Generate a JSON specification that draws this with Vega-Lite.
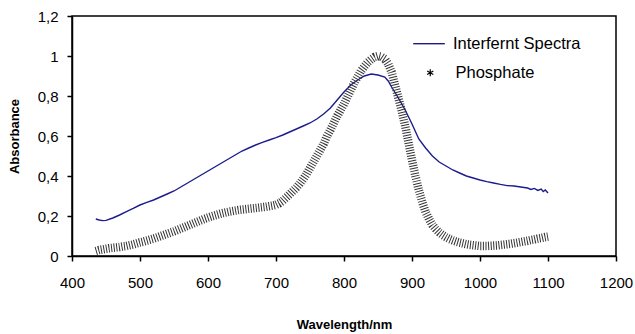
{
  "$schema": "https://vega.github.io/schema/vega-lite/v6.json",
  "width": 544,
  "height": 240,
  "autosize": {"type": "none"},
  "padding": {"left": 72, "top": 16, "right": 19, "bottom": 78},
  "background": "white",
  "config": {
    "font": "Liberation Sans",
    "view": {"stroke": "black", "strokeWidth": 1.5},
    "axis": {"grid": false, "domainColor": "black", "tickColor": "black", "labelColor": "black", "titleColor": "black", "labelFont": "Liberation Sans", "titleFont": "Liberation Sans", "labelFontSize": 15, "tickSize": 5, "domainWidth": 1.5, "tickWidth": 1.5, "labelOverlap": false},
    "legend": {"labelFont": "Liberation Sans", "labelFontSize": 16.5, "labelColor": "black"}
  },
  "datasets": {
    "interferent": [
      {"wl": 435, "abs": 0.185}, {"wl": 440, "abs": 0.18}, {"wl": 445, "abs": 0.177}, {"wl": 450, "abs": 0.178},
      {"wl": 460, "abs": 0.19}, {"wl": 470, "abs": 0.205}, {"wl": 480, "abs": 0.222}, {"wl": 490, "abs": 0.238},
      {"wl": 500, "abs": 0.255}, {"wl": 510, "abs": 0.268}, {"wl": 520, "abs": 0.28}, {"wl": 530, "abs": 0.295},
      {"wl": 540, "abs": 0.31}, {"wl": 550, "abs": 0.325}, {"wl": 560, "abs": 0.345}, {"wl": 570, "abs": 0.365},
      {"wl": 580, "abs": 0.385}, {"wl": 590, "abs": 0.405}, {"wl": 600, "abs": 0.425}, {"wl": 610, "abs": 0.445},
      {"wl": 620, "abs": 0.465}, {"wl": 630, "abs": 0.485}, {"wl": 640, "abs": 0.505}, {"wl": 650, "abs": 0.525},
      {"wl": 660, "abs": 0.54}, {"wl": 670, "abs": 0.555}, {"wl": 680, "abs": 0.568}, {"wl": 690, "abs": 0.58},
      {"wl": 700, "abs": 0.592}, {"wl": 710, "abs": 0.605}, {"wl": 720, "abs": 0.62}, {"wl": 730, "abs": 0.635},
      {"wl": 740, "abs": 0.65}, {"wl": 750, "abs": 0.665}, {"wl": 760, "abs": 0.685}, {"wl": 770, "abs": 0.71},
      {"wl": 780, "abs": 0.74}, {"wl": 790, "abs": 0.78}, {"wl": 800, "abs": 0.82}, {"wl": 810, "abs": 0.855},
      {"wl": 820, "abs": 0.88}, {"wl": 830, "abs": 0.9}, {"wl": 840, "abs": 0.91}, {"wl": 850, "abs": 0.905},
      {"wl": 860, "abs": 0.895}, {"wl": 865, "abs": 0.875}, {"wl": 870, "abs": 0.845}, {"wl": 880, "abs": 0.79},
      {"wl": 890, "abs": 0.73}, {"wl": 900, "abs": 0.66}, {"wl": 910, "abs": 0.585}, {"wl": 920, "abs": 0.54},
      {"wl": 930, "abs": 0.5}, {"wl": 940, "abs": 0.47}, {"wl": 950, "abs": 0.45}, {"wl": 960, "abs": 0.43},
      {"wl": 970, "abs": 0.415}, {"wl": 980, "abs": 0.4}, {"wl": 990, "abs": 0.39}, {"wl": 1000, "abs": 0.38},
      {"wl": 1010, "abs": 0.372}, {"wl": 1020, "abs": 0.365}, {"wl": 1030, "abs": 0.358}, {"wl": 1040, "abs": 0.352},
      {"wl": 1050, "abs": 0.35}, {"wl": 1060, "abs": 0.345}, {"wl": 1070, "abs": 0.34}, {"wl": 1075, "abs": 0.333},
      {"wl": 1080, "abs": 0.338}, {"wl": 1085, "abs": 0.328}, {"wl": 1090, "abs": 0.335}, {"wl": 1093, "abs": 0.322},
      {"wl": 1096, "abs": 0.33}, {"wl": 1100, "abs": 0.315}
    ],
    "phosphate": [
      {"wl": 435, "abs": 0.025}, {"wl": 440, "abs": 0.03}, {"wl": 445, "abs": 0.033}, {"wl": 450, "abs": 0.036},
      {"wl": 455, "abs": 0.039}, {"wl": 460, "abs": 0.041}, {"wl": 465, "abs": 0.043}, {"wl": 470, "abs": 0.045},
      {"wl": 475, "abs": 0.048}, {"wl": 480, "abs": 0.05}, {"wl": 485, "abs": 0.054}, {"wl": 490, "abs": 0.058},
      {"wl": 495, "abs": 0.063}, {"wl": 500, "abs": 0.068}, {"wl": 505, "abs": 0.072}, {"wl": 510, "abs": 0.077},
      {"wl": 515, "abs": 0.082}, {"wl": 520, "abs": 0.087}, {"wl": 525, "abs": 0.093}, {"wl": 530, "abs": 0.099},
      {"wl": 535, "abs": 0.105}, {"wl": 540, "abs": 0.111}, {"wl": 545, "abs": 0.117}, {"wl": 550, "abs": 0.123},
      {"wl": 555, "abs": 0.13}, {"wl": 560, "abs": 0.137}, {"wl": 565, "abs": 0.144}, {"wl": 570, "abs": 0.151},
      {"wl": 575, "abs": 0.158}, {"wl": 580, "abs": 0.165}, {"wl": 585, "abs": 0.172}, {"wl": 590, "abs": 0.179},
      {"wl": 595, "abs": 0.186}, {"wl": 600, "abs": 0.192}, {"wl": 605, "abs": 0.198}, {"wl": 610, "abs": 0.203},
      {"wl": 615, "abs": 0.208}, {"wl": 620, "abs": 0.213}, {"wl": 625, "abs": 0.217}, {"wl": 630, "abs": 0.221},
      {"wl": 635, "abs": 0.224}, {"wl": 640, "abs": 0.227}, {"wl": 645, "abs": 0.23}, {"wl": 650, "abs": 0.232},
      {"wl": 655, "abs": 0.234}, {"wl": 660, "abs": 0.236}, {"wl": 665, "abs": 0.238}, {"wl": 670, "abs": 0.24},
      {"wl": 675, "abs": 0.242}, {"wl": 680, "abs": 0.244}, {"wl": 685, "abs": 0.246}, {"wl": 690, "abs": 0.249},
      {"wl": 695, "abs": 0.252}, {"wl": 700, "abs": 0.256}, {"wl": 705, "abs": 0.264}, {"wl": 710, "abs": 0.276},
      {"wl": 715, "abs": 0.292}, {"wl": 720, "abs": 0.308}, {"wl": 725, "abs": 0.325}, {"wl": 730, "abs": 0.342},
      {"wl": 735, "abs": 0.362}, {"wl": 740, "abs": 0.385}, {"wl": 745, "abs": 0.41}, {"wl": 750, "abs": 0.44},
      {"wl": 755, "abs": 0.47}, {"wl": 760, "abs": 0.5}, {"wl": 765, "abs": 0.53}, {"wl": 770, "abs": 0.56},
      {"wl": 775, "abs": 0.6}, {"wl": 780, "abs": 0.63}, {"wl": 785, "abs": 0.665}, {"wl": 790, "abs": 0.7},
      {"wl": 795, "abs": 0.73}, {"wl": 800, "abs": 0.76}, {"wl": 805, "abs": 0.795}, {"wl": 810, "abs": 0.83},
      {"wl": 815, "abs": 0.865}, {"wl": 820, "abs": 0.895}, {"wl": 825, "abs": 0.925}, {"wl": 830, "abs": 0.948},
      {"wl": 835, "abs": 0.968}, {"wl": 840, "abs": 0.983}, {"wl": 845, "abs": 0.995}, {"wl": 850, "abs": 1.0},
      {"wl": 855, "abs": 0.996}, {"wl": 860, "abs": 0.985}, {"wl": 865, "abs": 0.96}, {"wl": 870, "abs": 0.92},
      {"wl": 875, "abs": 0.855}, {"wl": 880, "abs": 0.79}, {"wl": 885, "abs": 0.725}, {"wl": 890, "abs": 0.65},
      {"wl": 895, "abs": 0.565}, {"wl": 900, "abs": 0.48}, {"wl": 905, "abs": 0.4}, {"wl": 910, "abs": 0.33},
      {"wl": 915, "abs": 0.27}, {"wl": 920, "abs": 0.22}, {"wl": 925, "abs": 0.185}, {"wl": 930, "abs": 0.155},
      {"wl": 935, "abs": 0.135}, {"wl": 940, "abs": 0.118}, {"wl": 945, "abs": 0.105}, {"wl": 950, "abs": 0.094},
      {"wl": 955, "abs": 0.085}, {"wl": 960, "abs": 0.078}, {"wl": 965, "abs": 0.072}, {"wl": 970, "abs": 0.067},
      {"wl": 975, "abs": 0.063}, {"wl": 980, "abs": 0.059}, {"wl": 985, "abs": 0.056}, {"wl": 990, "abs": 0.054},
      {"wl": 995, "abs": 0.052}, {"wl": 1000, "abs": 0.05}, {"wl": 1005, "abs": 0.05}, {"wl": 1010, "abs": 0.05},
      {"wl": 1015, "abs": 0.051}, {"wl": 1020, "abs": 0.052}, {"wl": 1025, "abs": 0.053}, {"wl": 1030, "abs": 0.055},
      {"wl": 1035, "abs": 0.057}, {"wl": 1040, "abs": 0.059}, {"wl": 1045, "abs": 0.061}, {"wl": 1050, "abs": 0.064},
      {"wl": 1055, "abs": 0.067}, {"wl": 1060, "abs": 0.07}, {"wl": 1065, "abs": 0.073}, {"wl": 1070, "abs": 0.076},
      {"wl": 1075, "abs": 0.08}, {"wl": 1080, "abs": 0.083}, {"wl": 1085, "abs": 0.087}, {"wl": 1090, "abs": 0.09},
      {"wl": 1095, "abs": 0.094}, {"wl": 1100, "abs": 0.097}
    ]
  },
  "encoding": {
    "x": {"field": "wl", "type": "quantitative", "scale": {"domain": [400, 1200]},
      "axis": {"title": "Wavelength/nm", "titleFontSize": 13, "titleFontWeight": "bold", "titlePadding": 28, "labelPadding": 14, "values": [400, 500, 600, 700, 800, 900, 1000, 1100, 1200], "format": "d", "labelFlush": false}},
    "y": {"field": "abs", "type": "quantitative", "scale": {"domain": [0, 1.2]},
      "axis": {"title": "Absorbance", "titleFontSize": 13, "titleFontWeight": "bold", "titlePadding": 16, "labelPadding": 9, "values": [0, 0.2, 0.4, 0.6, 0.8, 1, 1.2], "tickCount": 7, "labelExpr": "replace(format(datum.value, '.1~f'), '.', ',')"}}
  },
  "layer": [
    {
      "data": {"name": "interferent"},
      "mark": {"type": "line", "strokeWidth": 1.4},
      "encoding": {
        "color": {"datum": "Interfernt Spectra", "scale": {"range": ["#1c1c8c"]},
          "legend": {"title": null, "orient": "none", "legendX": 340, "legendY": 10.7, "padding": 0, "symbolType": "stroke", "symbolSize": 1000, "symbolStrokeWidth": 1.4, "labelOffset": 7}}
      }
    },
    {
      "data": {"name": "phosphate"},
      "mark": {"type": "line", "strokeWidth": 8.5, "strokeDash": [1, 1.6], "color": "#333333"},
      "encoding": {
        "opacity": {"datum": "Phosphate", "type": "nominal", "scale": {"range": [1]},
          "legend": {"title": null, "orient": "none", "legendX": 350, "legendY": 48.5, "padding": 0, "symbolType": "M0,-1L0,1M-0.87,-0.5L0.87,0.5M-0.87,0.5L0.87,-0.5", "symbolSize": 50, "symbolStrokeColor": "black", "symbolFillColor": "transparent", "symbolStrokeWidth": 1.2, "symbolDash": [], "labelOffset": 17}}
      }
    }
  ]
}
